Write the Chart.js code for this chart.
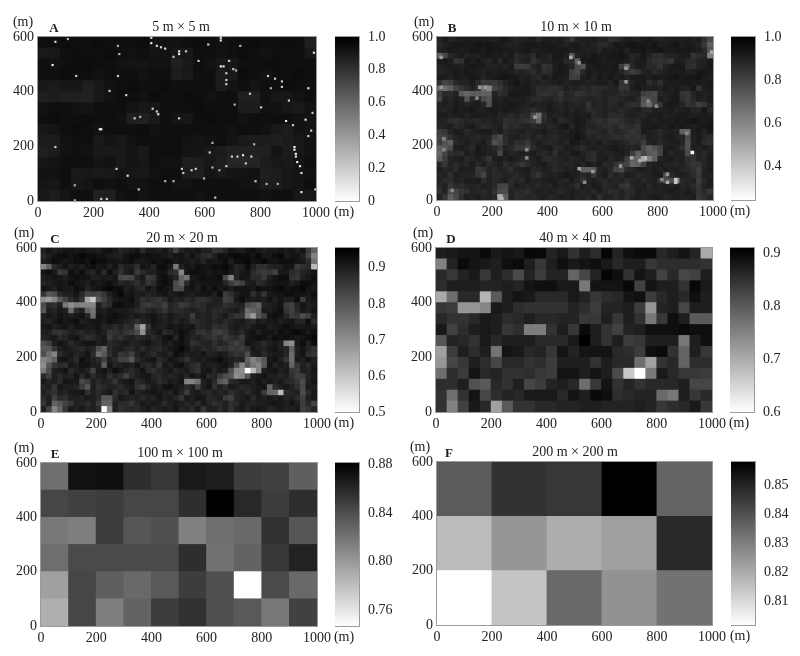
<!DOCTYPE html>
<html><head><meta charset="utf-8">
<script src="https://cdn.jsdelivr.net/npm/chart.js@4/dist/chart.umd.min.js"></script>
<style>
html,body{margin:0;padding:0;background:#fff}
#page{position:relative;width:800px;height:656px;overflow:hidden;font-family:"Liberation Serif",serif;color:#222}
canvas{position:absolute}
.t{position:absolute;white-space:nowrap;line-height:1;transform:translate(-50%,-50%)}
</style></head><body><div id="page"></div>
<script>
// NOTE ON DATA: all values are visual estimates from the picture's grey levels.
// Panels A (5 m) and B (10 m) are NOT cell-by-cell readings: A is a 40 m estimated
// background plus the specks that could be picked out; B reuses panel C's 20 m grid
// as its base plus the bright 10 m cells that could be picked out.
// Panel C away from its visible hot spots is only a rough estimate of the texture.
const xTicks=[0,200,400,600,800,1000];
const yTicks=[0,200,400,600];

// Panel A background, estimated local level in 40 m blocks, top row first
const backgroundA=[
[.94,.94,.95,.94,.94,.95,.94,.94,.94,.95,.93,.93,.93,.94,.95,.94,.93,.94,.94,.95,.94,.94,.95,.94,.88],
[.90,.91,.94,.95,.94,.94,.95,.94,.93,.94,.92,.93,.91,.91,.94,.94,.93,.94,.95,.94,.93,.94,.94,.94,.90],
[.94,.93,.94,.95,.95,.94,.94,.93,.92,.92,.93,.93,.88,.90,.94,.93,.91,.91,.94,.94,.94,.95,.94,.94,.94],
[.94,.94,.95,.94,.94,.93,.94,.94,.94,.93,.94,.94,.89,.90,.94,.94,.89,.90,.95,.94,.93,.94,.94,.95,.94],
[.90,.89,.91,.91,.88,.90,.93,.94,.95,.94,.94,.95,.94,.94,.94,.94,.89,.92,.94,.92,.94,.94,.95,.94,.94],
[.88,.89,.88,.88,.87,.90,.93,.95,.94,.93,.95,.94,.94,.95,.94,.93,.94,.94,.88,.88,.93,.91,.91,.93,.94],
[.93,.94,.94,.93,.92,.94,.94,.94,.92,.91,.91,.94,.94,.94,.95,.94,.94,.94,.89,.89,.93,.93,.91,.90,.92],
[.94,.95,.94,.94,.95,.94,.94,.93,.88,.87,.90,.94,.92,.91,.94,.95,.94,.94,.93,.94,.94,.94,.94,.93,.92],
[.91,.92,.94,.95,.94,.93,.94,.94,.94,.95,.93,.94,.94,.94,.94,.94,.94,.93,.94,.94,.93,.90,.89,.93,.92],
[.89,.89,.93,.94,.94,.90,.92,.90,.93,.94,.94,.94,.94,.93,.92,.93,.94,.92,.90,.89,.89,.88,.89,.91,.93],
[.88,.89,.93,.94,.93,.90,.90,.90,.92,.90,.94,.94,.94,.92,.92,.90,.89,.87,.87,.87,.88,.92,.89,.91,.93],
[.91,.92,.94,.94,.94,.92,.93,.90,.92,.91,.94,.93,.93,.88,.89,.91,.88,.85,.85,.86,.89,.91,.90,.92,.94],
[.93,.93,.94,.90,.91,.90,.90,.92,.91,.90,.93,.94,.94,.89,.88,.92,.90,.92,.92,.93,.88,.89,.91,.92,.93],
[.92,.91,.94,.91,.92,.94,.93,.94,.92,.93,.94,.94,.93,.93,.94,.94,.94,.94,.93,.92,.89,.89,.91,.92,.94],
[.91,.89,.92,.94,.94,.87,.88,.93,.94,.93,.94,.94,.94,.94,.93,.94,.94,.94,.94,.94,.93,.94,.94,.91,.91]
];

// Panel C, 20 m cells, top row first, in hundredths of a metre
const panelC=[
[90,92,90,91,92,92,91,92,91,91,90,92,93,91,89,90,91,92,88,91,91,90,92,89,84,90,91,91,92,90,90,86,87,89,92,91,90,92,93,91,90,91,91,92,91,92,90,92,85,78],
[88,90,92,93,93,92,93,94,93,93,92,92,91,90,90,92,93,93,92,93,92,92,91,90,92,92,90,92,90,88,87,90,93,92,93,94,93,93,92,94,91,91,93,94,91,92,92,90,83,72],
[90,91,93,92,91,92,93,93,92,94,93,93,92,92,91,92,93,91,91,92,93,92,93,93,91,92,91,90,91,89,92,91,92,93,90,93,93,94,92,93,94,92,92,93,93,93,92,91,88,75],
[72,78,88,90,92,90,91,90,92,93,91,92,90,92,88,90,90,87,92,91,89,93,93,91,74,90,92,91,93,92,92,93,93,94,92,89,90,93,90,87,87,89,90,90,92,92,85,87,88,62],
[92,93,91,85,86,93,91,93,90,89,92,88,93,90,87,90,91,85,88,90,90,92,92,88,87,72,92,93,93,92,91,92,92,93,91,89,91,92,88,86,85,86,84,91,91,88,87,89,90,92],
[90,91,92,91,90,92,93,92,92,90,90,91,90,92,83,82,83,89,91,85,86,92,93,91,89,78,75,91,92,93,92,92,93,82,72,89,92,91,88,88,85,90,92,93,93,87,86,90,91,93],
[89,90,91,92,91,93,92,91,90,92,91,92,93,91,89,90,89,87,90,86,88,92,93,92,82,78,88,92,91,92,92,92,92,89,85,82,84,90,91,88,89,91,92,92,92,90,91,93,93,92],
[92,91,90,92,91,91,93,92,89,91,92,93,94,93,93,90,91,89,88,92,90,93,92,91,82,82,91,92,90,93,91,93,91,92,90,92,92,92,91,93,92,92,93,94,92,93,93,94,92,91],
[86,80,82,88,90,90,92,88,83,84,83,86,90,92,94,91,92,90,91,89,90,91,92,90,91,92,91,90,91,92,92,90,93,85,87,90,92,92,87,90,86,91,92,92,93,93,92,92,91,93],
[70,68,72,80,84,88,90,86,66,60,80,84,88,91,92,92,93,90,87,88,87,86,88,91,89,90,88,89,87,87,88,90,90,84,85,91,93,91,90,91,90,92,90,92,90,90,93,85,91,92],
[82,88,87,90,74,70,73,72,72,72,90,86,88,93,93,92,92,90,86,85,86,87,84,89,88,85,86,88,87,88,90,90,89,87,88,89,90,82,80,78,89,90,91,92,85,84,89,92,90,91],
[80,90,89,91,90,76,88,90,78,75,91,90,92,91,91,91,90,88,87,89,90,88,86,89,88,88,89,90,89,88,90,88,88,89,90,91,88,76,78,80,91,90,92,93,86,84,88,91,90,92],
[90,91,90,92,91,90,91,92,89,76,92,91,92,93,92,91,90,91,90,91,92,90,89,91,90,89,90,85,90,89,90,88,89,91,88,86,86,74,68,80,84,92,93,92,89,85,86,82,84,90],
[90,89,91,93,91,92,93,90,91,92,92,91,93,92,91,90,89,87,89,90,92,91,90,91,89,91,90,87,88,89,90,89,90,88,89,90,91,89,88,91,90,91,92,90,91,92,89,89,93,88],
[91,92,90,91,92,90,92,92,91,91,92,89,90,88,90,87,88,78,66,86,91,90,90,92,91,92,91,92,88,89,90,87,88,87,90,91,90,89,91,92,92,90,91,92,93,92,91,91,92,91],
[90,90,87,86,88,90,89,88,90,89,91,90,86,87,88,86,85,82,70,88,90,92,88,89,91,93,92,90,87,86,88,85,84,86,89,90,88,91,92,90,92,92,91,93,92,93,94,93,91,93],
[89,90,91,88,89,91,92,89,87,88,90,91,85,88,87,89,90,88,89,90,88,90,92,93,89,93,91,89,90,88,87,86,88,85,87,88,85,91,92,93,92,91,93,92,93,92,91,92,93,94],
[82,84,90,92,91,88,90,91,92,92,90,91,88,89,90,91,89,90,91,92,90,89,91,90,92,93,91,87,88,89,90,87,89,88,86,84,86,92,91,90,88,90,91,90,72,70,91,93,90,93],
[80,80,86,90,91,90,89,88,90,89,82,78,88,90,91,89,88,90,88,90,89,88,90,91,92,94,92,89,90,88,89,88,86,87,85,86,85,87,91,90,89,91,92,90,89,78,90,92,89,87],
[82,76,72,88,90,91,89,90,92,88,76,80,87,90,86,87,84,89,91,89,88,90,91,89,93,92,90,91,90,92,89,90,91,90,88,86,87,82,90,91,88,90,91,91,89,76,90,92,87,86],
[72,74,78,91,92,90,88,93,91,90,88,84,90,88,84,84,80,88,90,91,92,88,89,92,91,89,87,90,91,90,91,92,93,91,90,89,90,78,72,76,80,91,92,90,86,76,91,90,92,90],
[70,80,86,88,87,91,90,92,92,90,90,79,92,89,90,91,90,92,89,88,90,86,91,90,92,93,90,88,87,91,90,90,91,92,90,82,72,80,74,72,80,92,89,91,90,78,86,90,88,91],
[74,82,90,91,92,88,90,91,89,84,91,92,90,93,91,89,88,90,92,88,87,89,90,91,89,90,91,88,86,91,92,89,91,90,82,72,70,50,62,72,90,91,92,90,91,86,85,90,89,92],
[88,84,90,88,90,89,92,88,91,88,90,91,87,89,88,84,88,90,91,92,89,88,90,89,90,91,89,92,90,92,88,89,85,82,80,70,72,80,90,91,92,90,90,89,90,87,84,85,89,91],
[91,89,90,88,92,91,91,83,85,90,88,90,89,86,90,91,92,88,89,91,90,88,89,91,90,92,72,72,76,90,91,88,80,78,88,89,91,91,90,92,90,91,90,91,89,88,86,82,90,92],
[89,90,86,91,90,90,89,85,80,90,87,88,90,89,88,90,91,87,85,89,91,90,92,93,91,90,88,90,84,90,92,87,90,88,91,90,88,89,90,91,92,78,88,90,91,90,87,83,91,90],
[90,88,87,90,89,91,91,92,87,90,88,90,91,87,89,88,92,89,90,91,92,91,90,89,92,89,85,90,91,89,88,90,89,90,87,89,90,88,90,91,85,78,77,62,88,89,90,82,88,91],
[88,90,84,88,87,90,90,89,91,90,88,80,80,88,91,90,89,90,88,90,89,92,90,91,89,86,91,90,92,91,88,89,90,85,84,89,90,91,88,91,90,91,90,91,89,90,88,84,90,91],
[86,90,78,80,84,86,90,89,88,90,85,78,78,90,88,88,86,89,91,90,91,90,88,90,91,90,89,90,88,91,89,87,88,90,87,88,91,90,89,90,90,91,92,91,90,92,90,85,88,84],
[90,84,72,78,86,91,90,91,89,90,88,50,72,90,87,88,89,88,90,91,89,90,91,90,92,89,90,88,91,86,90,90,88,90,87,90,91,89,91,92,91,89,90,91,90,90,91,84,86,89]
];

// Panel A: brightest 5 m cells that can be picked out, [x m, y m, value]
const specksA=[[63,580,.15],[108,590,.3],[50,495,.05],[138,455,.2],[287,565,.3],[293,535,.3],[287,458,.2],[257,400,.2],[317,388,.2],[407,595,.1],[407,575,.1],[425,565,.15],[443,563,.15],[458,557,.15],[509,548,.1],[505,537,.1],[485,525,.2],[533,548,.2],[577,510,.2],[610,570,.2],[659,595,.05],[659,585,.1],[659,492,.05],[667,492,.1],[689,510,.2],[677,467,.2],[700,480,.2],[713,476,.3],[679,443,.2],[679,425,.2],[725,565,.3],[760,394,.2],[826,455,.2],[854,449,.2],[838,412,.3],[878,437,.2],[878,416,.2],[904,367,.2],[970,412,.1],[707,354,.3],[802,343,.2],[988,320,.2],[962,299,.1],[982,256,.2],[970,235,.2],[916,278,.2],[892,290,.1],[922,198,.05],[922,186,.05],[926,174,.05],[928,161,.1],[934,143,.1],[940,125,.1],[946,100,.15],[946,33,.1],[998,42,.2],[994,541,.1],[345,300,.2],[365,308,.3],[425,327,.2],[431,315,.1],[413,339,.2],[509,302,.2],[222,260,.05],[227,260,.05],[63,195,.2],[281,116,.2],[323,94,.1],[132,58,.3],[134,2,.3],[455,73,.3],[485,73,.3],[363,43,.2],[638,11,.2],[599,82,.3],[782,72,.2],[695,162,.2],[719,162,.2],[737,165,.1],[766,162,.2],[749,137,.2],[677,125,.2],[653,113,.3],[629,122,.3],[629,210,.3],[617,177,.2],[778,207,.3],[519,115,.2],[551,110,.2],[569,119,.2],[521,100,.2],[820,64,.3],[862,64,.3],[246,9,.2],[228,9,.2]];

// Panel B: brighter 10 m cells that can be picked out, [x m, y m, value]
const specksB=[[924,175,.25],[864,73,.4],[864,63,.42],[815,73,.6],[833,92,.55],[483,526,.5],[513,504,.55],[15,526,.55],[996,545,.5],[682,435,.55],[682,484,.55],[356,306,.55],[157,410,.55],[175,416,.55],[18,410,.55],[145,377,.6],[235,6,.45],[223,18,.5],[54,37,.6],[24,226,.6],[22,184,.6],[519,116,.5],[561,104,.55],[706,159,.5],[737,147,.5],[755,159,.45],[664,129,.55],[324,184,.6],[324,153,.6],[833,67,.5],[906,245,.6],[767,367,.6],[797,349,.6],[531,67,.6]];

const panelD=[
[.874,.88,.886,.886,.898,.88,.886,.88,.90,.90,.867,.88,.849,.874,.855,.904,.867,.892,.898,.898,.861,.874,.886,.867,.703],
[.752,.867,.898,.886,.88,.874,.892,.898,.874,.843,.874,.892,.88,.886,.892,.88,.861,.874,.874,.843,.855,.855,.855,.855,.849],
[.861,.843,.867,.88,.843,.874,.855,.819,.867,.837,.867,.867,.788,.825,.867,.904,.892,.849,.886,.874,.831,.861,.825,.831,.874],
[.855,.874,.874,.874,.867,.867,.874,.867,.886,.892,.892,.88,.88,.764,.886,.886,.886,.90,.831,.886,.874,.874,.849,.90,.88],
[.703,.776,.861,.861,.691,.80,.874,.886,.88,.861,.861,.861,.88,.867,.843,.855,.861,.886,.892,.837,.861,.874,.861,.892,.874],
[.843,.837,.728,.728,.746,.88,.874,.855,.849,.849,.849,.849,.867,.855,.837,.867,.867,.874,.837,.728,.867,.874,.825,.874,.874],
[.861,.849,.849,.861,.88,.874,.855,.861,.874,.861,.861,.867,.867,.843,.843,.874,.843,.874,.849,.764,.843,.892,.874,.80,.80],
[.88,.831,.855,.874,.88,.874,.843,.855,.758,.758,.849,.874,.843,.898,.874,.849,.831,.867,.874,.892,.892,.892,.898,.892,.892],
[.806,.867,.861,.849,.88,.861,.874,.874,.874,.861,.861,.861,.88,.91,.874,.849,.874,.837,.843,.874,.874,.874,.764,.874,.892],
[.715,.837,.874,.855,.874,.77,.886,.88,.861,.867,.843,.886,.867,.886,.886,.886,.861,.855,.837,.892,.898,.849,.788,.874,.843],
[.728,.825,.843,.874,.855,.825,.861,.861,.849,.855,.837,.874,.874,.874,.849,.874,.861,.861,.776,.715,.849,.861,.788,.855,.855],
[.776,.855,.837,.886,.861,.867,.849,.849,.855,.843,.837,.886,.886,.874,.886,.874,.819,.667,.60,.764,.88,.861,.843,.843,.837],
[.855,.855,.874,.813,.80,.861,.849,.874,.825,.837,.867,.874,.861,.776,.843,.886,.849,.867,.849,.861,.861,.861,.874,.825,.825],
[.849,.776,.849,.886,.825,.855,.867,.861,.88,.88,.88,.861,.886,.874,.898,.892,.855,.861,.867,.867,.782,.764,.874,.843,.861],
[.849,.752,.831,.88,.861,.715,.80,.849,.849,.861,.861,.867,.867,.874,.874,.867,.867,.867,.874,.867,.843,.855,.861,.88,.843]
];

const panelE=[
[.823,.872,.873,.857,.852,.868,.865,.849,.847,.831],
[.844,.847,.849,.844,.844,.857,.881,.860,.849,.857],
[.818,.815,.849,.836,.839,.813,.823,.826,.855,.836],
[.823,.842,.842,.842,.842,.857,.821,.829,.852,.863],
[.797,.844,.831,.826,.834,.849,.839,.747,.842,.826],
[.789,.844,.815,.829,.849,.855,.839,.834,.818,.847]
];

const panelF=[
[.838,.847,.846,.858,.836],
[.817,.825,.82,.823,.849],
[.802,.815,.835,.826,.833]
];

const ticksA=[0,.2,.4,.6,.8,1],ticksB=[.4,.6,.8,1],ticksC=[.5,.6,.7,.8,.9],ticksD=[.6,.7,.8,.9],ticksE=[.76,.80,.84,.88],ticksF=[.81,.82,.83,.84,.85];
const decA=1,decB=1,decC=1,decD=1,decE=2,decF=2;

const page=document.getElementById('page');
const FONT='"Liberation Serif"';
const TXT='#222';
const FRAME='#9a9a9a';

function grey(v,lo,hi){
  const g=Math.max(0,Math.min(255,Math.round((hi-v)/(hi-lo)*255)));
  return `rgb(${g},${g},${g})`;
}
function gridCells(rows,size,scale){
  const out=[];
  rows.forEach((row,r)=>row.forEach((v,c)=>{
    const top=600-r*size;
    out.push({x:(c+.5)*size,y:[top-size,top],v:v*scale});
  }));
  return out;
}
function speckCells(list,size){
  return list.map(([x,y,v])=>{
    const lo=Math.floor(y/size)*size;
    return {x:(Math.floor(x/size)+.5)*size,y:[lo,lo+size],v};
  });
}
const frame={id:'frame',afterDraw(c){
  const a=c.chartArea,x=c.ctx;
  x.save();x.strokeStyle=FRAME;x.lineWidth=1;
  x.strokeRect(Math.round(a.left)-.5,Math.round(a.top)-.5,Math.round(a.width)+1,Math.round(a.height)+1);
  x.restore();
}};
function mkCanvas(l,t,w,h){
  const c=document.createElement('canvas');
  c.width=w;c.height=h;c.style.left=l+'px';c.style.top=t+'px';c.style.width=w+'px';c.style.height=h+'px';
  page.appendChild(c);return c;
}
function text(s,x,y,size,bold){
  const d=document.createElement('div');d.className='t';d.textContent=s;
  d.style.left=x+'px';d.style.top=y+'px';d.style.fontSize=size+'px';
  if(bold)d.style.fontWeight='bold';
  page.appendChild(d);
}
function heat(box,layers,lo,hi){
  const L=36,T=8,B=20,R=16;
  const cv=mkCanvas(box.x-L,box.y-T,box.w+L+R,box.h+T+B);
  new Chart(cv,{
    type:'bar',
    data:{datasets:layers.map(l=>({
      data:l.cells,
      backgroundColor:l.cells.map(p=>grey(p.v,lo,hi)),
      barThickness:box.w*l.size/1000,
      grouped:false,inflateAmount:.4,borderWidth:0,order:l.order
    }))},
    options:{
      responsive:false,animation:false,devicePixelRatio:1,
      layout:{padding:{top:T,right:R,left:0,bottom:0}},
      plugins:{legend:{display:false},tooltip:{enabled:false}},
      scales:{
        x:{type:'linear',min:0,max:1000,offset:false,afterBuildTicks:s=>{s.ticks=xTicks.map(value=>({value}))},
          grid:{display:false,drawTicks:false},border:{display:false},
          ticks:{autoSkip:false,maxRotation:0,padding:4,color:TXT,font:{family:FONT,size:14},callback:v=>String(v)},
          afterFit:s=>{s.height=B;s.paddingLeft=0;s.paddingRight=0}},
        y:{type:'linear',min:0,max:600,afterBuildTicks:s=>{s.ticks=yTicks.map(value=>({value}))},
          grid:{display:false,drawTicks:false},border:{display:false},
          ticks:{autoSkip:false,padding:4,color:TXT,font:{family:FONT,size:14},callback:v=>String(v)},
          afterFit:s=>{s.width=L;s.paddingTop=0;s.paddingBottom=0}}
      }
    },
    plugins:[frame]
  });
}
function colorbar(box,lo,hi,ticks,dec){
  const T=8,B=8,R=44,N=64;
  const cv=mkCanvas(box.x,box.y-T,box.w+R,box.h+T+B);
  const cells=[];
  for(let i=0;i<N;i++){
    const a=lo+(hi-lo)*i/N,b=lo+(hi-lo)*(i+1)/N;
    cells.push({x:0,y:[a,b],v:(a+b)/2});
  }
  new Chart(cv,{
    type:'bar',
    data:{datasets:[{data:cells,backgroundColor:cells.map(p=>grey(p.v,lo,hi)),barThickness:box.w,inflateAmount:.4,borderWidth:0}]},
    options:{
      responsive:false,animation:false,devicePixelRatio:1,
      layout:{padding:{top:T,bottom:B,left:0,right:0}},
      plugins:{legend:{display:false},tooltip:{enabled:false}},
      scales:{
        x:{type:'linear',min:-1,max:1,display:false},
        y:{type:'linear',position:'right',min:lo,max:hi,afterBuildTicks:s=>{s.ticks=ticks.map(value=>({value}))},
          grid:{display:false,drawTicks:false},border:{display:false},
          ticks:{autoSkip:false,padding:9,color:TXT,font:{family:FONT,size:14},callback:v=>(+v===0?'0':(+v).toFixed(dec))},
          afterFit:s=>{s.width=R;s.paddingTop=0;s.paddingBottom=0}}
      }
    },
    plugins:[frame]
  });
}
const baseC=gridCells(panelC,20,.01);
const panels=[
 {id:'A',title:'5 m × 5 m',box:{x:38,y:37,w:278,h:164},cb:{x:335,w:24},lo:0,hi:1,ticks:ticksA,dec:decA,
  layers:[{cells:gridCells(backgroundA,40,1),size:40,order:2},{cells:speckCells(specksA,5),size:5,order:1}],lx:54,tx:181,mx:23},
 {id:'B',title:'10 m × 10 m',box:{x:437,y:37,w:276,h:163},cb:{x:731,w:24},lo:.245,hi:1,ticks:ticksB,dec:decB,
  layers:[{cells:baseC,size:20,order:2},{cells:speckCells(specksB,10),size:10,order:1}],lx:452,tx:576,mx:424},
 {id:'C',title:'20 m × 20 m',box:{x:41,y:248,w:276,h:164},cb:{x:335,w:24},lo:.5,hi:.955,ticks:ticksC,dec:decC,
  layers:[{cells:baseC,size:20,order:1}],lx:55,tx:182,mx:24},
 {id:'D',title:'40 m × 40 m',box:{x:436,y:248,w:276,h:164},cb:{x:730,w:24},lo:.6,hi:.91,ticks:ticksD,dec:decD,
  layers:[{cells:gridCells(panelD,40,1),size:40,order:1}],lx:451,tx:575,mx:423},
 {id:'E',title:'100 m × 100 m',box:{x:41,y:463,w:276,h:163},cb:{x:335,w:24},lo:.747,hi:.881,ticks:ticksE,dec:decE,
  layers:[{cells:gridCells(panelE,100,1),size:100,order:1}],lx:55,tx:180,mx:24},
 {id:'F',title:'200 m × 200 m',box:{x:437,y:462,w:275,h:163},cb:{x:731,w:24},lo:.802,hi:.858,ticks:ticksF,dec:decF,
  layers:[{cells:gridCells(panelF,200,1),size:200,order:1}],lx:449,tx:575,mx:420}
];
panels.forEach(p=>{
  heat(p.box,p.layers,p.lo,p.hi);
  colorbar({x:p.cb.x,y:p.box.y,w:p.cb.w,h:p.box.h},p.lo,p.hi,p.ticks,p.dec);
  text(p.id,p.lx,p.box.y-10,13,true);
  text(p.title,p.tx,p.box.y-10,14,false);
  text('(m)',p.mx,p.box.y-15,14,false);
  text('(m)',p.cb.x+9,p.box.y+p.box.h+11,14,false);
});
</script></body></html>
